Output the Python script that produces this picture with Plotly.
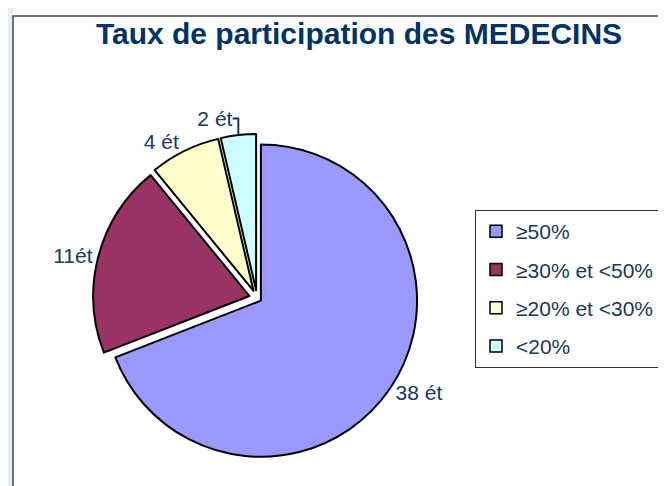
import plotly.graph_objects as go

categories = ["≥50%", "≥30% et <50%", "≥20% et <30%", "<20%"]
values = [38, 11, 4, 2]
label_texts = ["38 ét", "11ét", "4 ét", "2 ét"]
colors = ["#9999FF", "#993366", "#FFFFCC", "#CCFFFF"]

W, H = 666, 486
FONT = "Liberation Sans, Arial"
TXT = "#17375E"

def px_x(v):
    return v / W

def px_y(v):
    return 1 - v / H

fig = go.Figure()
fig.add_trace(go.Pie(
    labels=categories,
    values=values,
    text=label_texts,
    textinfo="text",
    textposition="outside",
    sort=False,
    direction="clockwise",
    rotation=0,
    pull=[0.03, 0.05, 0.05, 0.05],
    marker=dict(colors=colors, line=dict(color="#000000", width=2)),
    outsidetextfont=dict(family=FONT, size=21, color=TXT),
    textfont=dict(family=FONT, size=21, color=TXT),
    domain=dict(x=[px_x(85), px_x(413)], y=[px_y(454), px_y(126)]),
    showlegend=False,
    hoverinfo="label+value",
))

# legend entries (one group per category so spacing can be set)
for cat, col in zip(categories, colors):
    fig.add_trace(go.Scatter(
        x=[None], y=[None], mode="markers", name=cat,
        legendgroup=cat,
        marker=dict(symbol="square", size=12, color=col,
                    line=dict(color="#000000", width=1.5)),
    ))

fig.update_layout(
    width=W, height=H,
    margin=dict(l=0, r=0, t=0, b=0),
    paper_bgcolor="white",
    plot_bgcolor="white",
    xaxis=dict(visible=False),
    yaxis=dict(visible=False),
    title=dict(
        text="<b>Taux de participation des MEDECINS</b>",
        x=px_x(351), xanchor="center",
        y=px_y(25), yanchor="middle",
        font=dict(family=FONT, size=30, color="#003366"),
    ),
    showlegend=True,
    legend=dict(
        x=px_x(467), xanchor="left",
        y=px_y(202), yanchor="top",
        bgcolor="white",
        bordercolor="#333333",
        borderwidth=1,
        font=dict(family=FONT, size=21, color=TXT),
        tracegroupgap=8,
        itemwidth=30,
    ),
    shapes=[
        dict(type="rect", xref="paper", yref="paper",
             x0=px_x(-2), x1=px_x(5), y0=px_y(492), y1=px_y(-2),
             line=dict(width=0), fillcolor="#E6ECF3", layer="below"),
        dict(type="rect", xref="paper", yref="paper",
             x0=px_x(5), x1=px_x(672), y0=px_y(492), y1=px_y(8),
             line=dict(color="#444444", width=1.5),
             fillcolor="rgba(0,0,0,0)"),
    ],
)

fig.write_html("out.html")
